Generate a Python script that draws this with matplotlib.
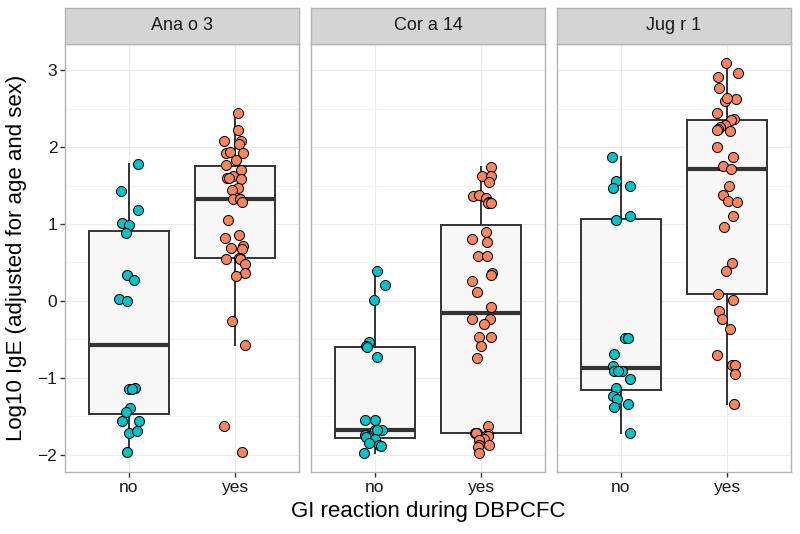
import numpy as np
import matplotlib.pyplot as plt

plt.rcParams['font.family'] = ['Liberation Sans', 'DejaVu Sans']

# facets and groups
allergens = ['Ana o 3', 'Cor a 14', 'Jug r 1']
groups = ['no', 'yes']

# values (log10 IgE), with jitter offsets as drawn
ana_no = [1.773, 1.427, 1.176, 1.008, 0.982, 0.882, 0.334, 0.277, 0.031, -0.003,
          -1.140, -1.136, -1.142, -1.386, -1.447, -1.559, -1.564, -1.710, -1.684, -1.957]
ana_no_jit = [0.091, -0.072, 0.082, -0.063, 0.006, -0.022, -0.016, 0.047, -0.094, -0.019,
              0.0, 0.057, 0.03, 0.009, -0.025, -0.060, 0.098, 0.0, 0.079, -0.013]

ana_yes = [2.438, 2.226, 2.075, 2.084, 2.041, 1.920, 1.933, 1.920, 1.833, 1.77,
           1.70, 1.621, 1.596, 1.596, 1.583, 1.466, 1.436, 1.328, 1.328, 1.33,
           1.284, 1.047, 0.861, 0.818, 0.692, 0.714, 0.675, 0.563, 0.56, 0.55,
           0.545, 0.485, 0.364, 0.325, -0.258, -0.570, -1.624, -1.957]
ana_yes_jit = [0.028, 0.025, -0.104, 0.054, 0.038, -0.085, -0.047, 0.072, 0.009, -0.091,
               0.057, -0.022, -0.079, -0.060, 0.054, 0.028, -0.028, 0.041, -0.022, 0.045,
               0.060, -0.066, 0.038, -0.098, -0.035, 0.072, 0.066, 0.041, 0.035, 0.045,
               -0.088, 0.088, 0.094, 0.003, -0.031, 0.088, -0.107, 0.060]

cor_no = [0.390, 0.204, 0.009, -0.531, -0.587, -0.604, -0.725, -1.546, -1.546, -1.676,
          -1.676, -1.68, -1.741, -1.771, -1.797, -1.849, -1.870, -1.879, -1.970]
cor_no_jit = [0.019, 0.094, -0.009, -0.057, -0.079, -0.069, 0.016, -0.094, 0.003, 0.006,
              0.072, 0.02, -0.094, -0.085, 0.003, -0.057, 0.038, 0.057, -0.098]

cor_yes = [1.738, 1.630, 1.630, 1.544, 1.358, 1.379, 1.336, 1.28, 1.276, 1.276,
           0.891, 0.805, 0.766, 0.584, 0.580, 0.364, 0.334, 0.260, 0.113, -0.077,
           -0.241, -0.233, -0.297, -0.466, -0.475, -0.587, -0.747, -1.624, -1.710, -1.719,
           -1.72, -1.732, -1.75, -1.754, -1.80, -1.806, -1.870, -1.870, -1.892, -1.970]
cor_yes_jit = [0.094, 0.009, 0.094, 0.072, -0.079, -0.019, 0.044, 0.07, 0.063, 0.094,
               0.041, -0.082, 0.054, -0.031, 0.057, 0.101, 0.094, -0.085, -0.038, 0.094,
               -0.091, 0.085, 0.031, -0.016, 0.088, -0.006, -0.035, 0.063, -0.035, -0.057,
               -0.05, 0.060, 0.05, 0.063, 0.03, -0.025, -0.019, 0.072, -0.031, -0.025]

jug_no = [1.872, 1.557, 1.466, 1.500, 1.055, 1.098, -0.479, -0.479, -0.691, -0.842,
          -0.911, -0.911, -0.911, -1.019, -1.127, -1.235, -1.278, -1.343, -1.382, -1.710]
jug_no_jit = [-0.079, -0.041, -0.072, 0.091, -0.041, 0.091, 0.035, 0.072, -0.060, -0.069,
              -0.066, 0.013, -0.03, 0.082, -0.044, -0.072, -0.035, 0.063, -0.066, 0.082]

jug_yes = [3.086, 2.914, 2.957, 2.771, 2.594, 2.624, 2.637, 2.438, 2.365, 2.352,
           2.291, 2.265, 2.235, 2.222, 2.205, 2.006, 1.868, 1.747, 1.72, 1.492,
           1.371, 1.293, 1.284, 1.099, 0.956, 0.498, 0.394, 0.096, 0.018, -0.129,
           -0.237, -0.371, -0.704, -0.838, -0.838, -0.950, -1.343]
jug_yes_jit = [-0.009, -0.091, 0.098, -0.076, -0.016, 0.085, -0.006, -0.094, 0.066, 0.038,
               -0.016, -0.066, -0.091, -0.098, 0.031, -0.094, 0.053, -0.035, 0.038, 0.019,
               -0.038, 0.009, 0.091, 0.053, -0.028, 0.047, -0.009, -0.082, 0.053, -0.079,
               -0.047, 0.028, -0.094, 0.041, 0.072, 0.072, 0.066]

data_no = [ana_no, cor_no, jug_no]
data_yes = [ana_yes, cor_yes, jug_yes]
jit_no = [ana_no_jit, cor_no_jit, jug_no_jit]
jit_yes = [ana_yes_jit, cor_yes_jit, jug_yes_jit]

col_no = '#00C2C7'
col_yes = '#F8875F'

# y range like ggplot (5% expansion)
all_vals = np.concatenate([np.array(v) for v in data_no + data_yes])
lo, hi = all_vals.min(), all_vals.max()
pad = 0.05 * (hi - lo)

W, H = 800, 534
fig = plt.figure(figsize=(W / 100, H / 100), dpi=100)

panel_left = [65, 311, 557]
panel_w = 234
panel_top, panel_bot = 44, 472
strip_top = 8

for i, name in enumerate(allergens):
    ax = fig.add_axes([panel_left[i] / W, (H - panel_bot) / H,
                       panel_w / W, (panel_bot - panel_top) / H])
    ax.set_facecolor('white')

    # boxplot
    ax.boxplot([data_no[i], data_yes[i]], positions=[1, 2], widths=0.75,
               patch_artist=True, showfliers=False, showcaps=False,
               boxprops=dict(facecolor='#F7F7F7', edgecolor='#333333', linewidth=1.4),
               whiskerprops=dict(color='#333333', linewidth=1.4),
               medianprops=dict(color='#333333', linewidth=3.0, solid_capstyle='butt'),
               zorder=2)

    # jittered points
    ax.scatter(1 + np.array(jit_no[i]), data_no[i], s=52, c=col_no,
               edgecolors='black', linewidths=0.75, zorder=3)
    ax.scatter(2 + np.array(jit_yes[i]), data_yes[i], s=52, c=col_yes,
               edgecolors='black', linewidths=0.75, zorder=3)

    ax.set_xlim(0.4, 2.6)
    ax.set_ylim(lo - pad, hi + pad)
    ax.set_xticks([1, 2])
    ax.set_xticklabels(groups)
    ax.set_yticks([-2, -1, 0, 1, 2, 3])
    ax.set_yticks([-1.5, -0.5, 0.5, 1.5, 2.5], minor=True)
    ax.grid(True, which='major', color='#EBEBEB', linewidth=0.8, zorder=0)
    ax.grid(True, which='minor', axis='y', color='#F3F3F3', linewidth=0.6, zorder=0)
    ax.set_axisbelow(True)
    ax.tick_params(axis='both', which='major', length=3.5, width=1.0, color='#333333',
                   labelsize=12.5, labelcolor='#1A1A1A', pad=2)
    ax.tick_params(axis='y', which='minor', length=0)
    if i > 0:
        ax.tick_params(axis='y', which='major', length=0, labelleft=False)
    for s in ax.spines.values():
        s.set_color('#B3B3B3')
        s.set_linewidth(1.0)

    # facet strip
    sax = fig.add_axes([panel_left[i] / W, (H - panel_top) / H,
                        panel_w / W, (panel_top - strip_top) / H])
    sax.set_facecolor('#D4D4D4')
    sax.set_xticks([])
    sax.set_yticks([])
    for s in sax.spines.values():
        s.set_color('#B3B3B3')
        s.set_linewidth(1.0)
    sax.text(0.5, 0.5, name, ha='center', va='center', fontsize=13,
             color='#1A1A1A', transform=sax.transAxes)

fig.text((65 + 791) / 2 / W, 1 - 512 / H, 'GI reaction during DBPCFC',
         ha='center', va='center', fontsize=16, color='black')
fig.text(17 / W, 1 - ((panel_top + panel_bot) / 2) / H,
         'Log10 IgE (adjusted for age and sex)', rotation=90,
         ha='center', va='center', fontsize=16, color='black')

fig.savefig('out.png', dpi=100)
